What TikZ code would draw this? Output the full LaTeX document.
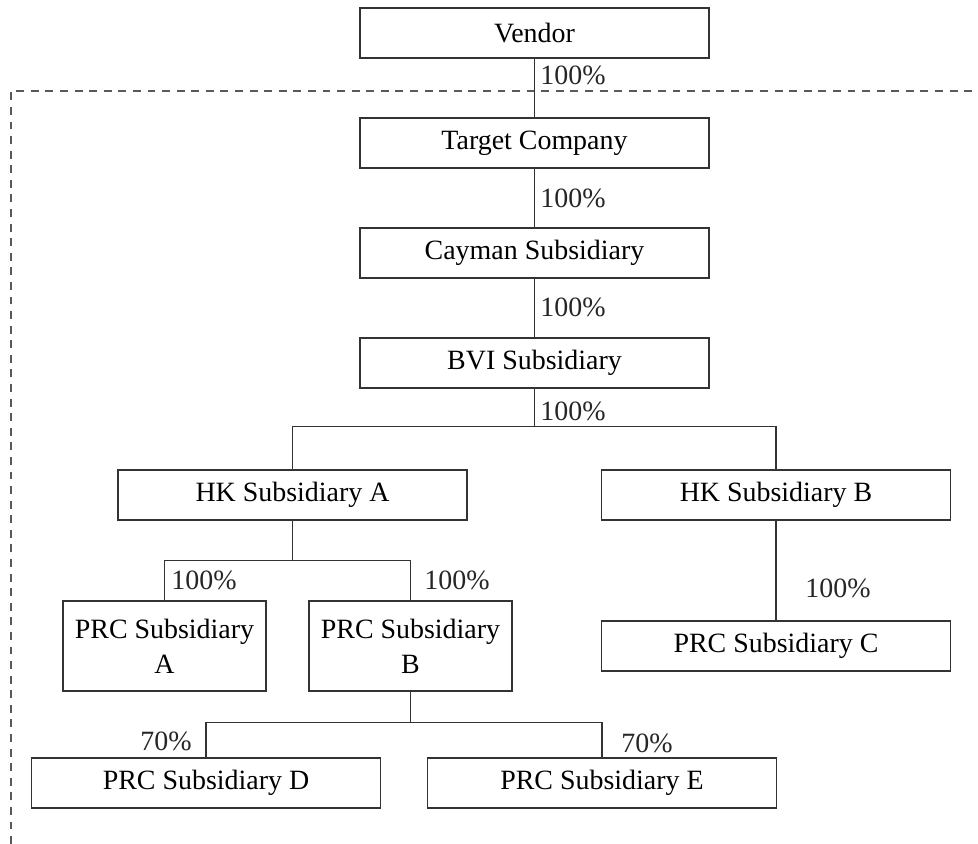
\documentclass[tikz,border=0pt]{standalone}
\usepackage{fontspec}
\setmainfont{Liberation Serif}
\usetikzlibrary{calc}
\tikzset{
  entity/.style={draw=black!80, line width=0.8pt, minimum width=6.98cm, minimum height=1cm, inner sep=0pt, font=\fontsize{15.9}{19.8}\selectfont},
  smallentity/.style={entity, minimum width=4.06cm, minimum height=1.8cm, align=center},
  share/.style={inner sep=0pt, font=\fontsize{15.9}{19.8}\selectfont, text=black!85},
  link/.style={black!80, line width=0.8pt},
  group/.style={black!65, line width=0.6pt, dash pattern=on 4.5pt off 3.8pt}
}

\begin{document}
\begin{tikzpicture}[x=0.02cm,y=-0.02cm]
    \useasboundingbox (0,0) rectangle (978,844);
    % dashed group boundary
    \coordinate (grpcorner) at (11,91);
    \draw[group] (11,844) -- (grpcorner) -- (978,91);
    % holding chain
    \node[entity] (vendor) at (534.5,33) {Vendor};
    \node[entity] (target) at (534.5,143) {Target Company};
    \node[entity] (cayman) at (534.5,253) {Cayman Subsidiary};
    \node[entity] (bvi) at (534.5,363) {BVI Subsidiary};
    \node[entity] (hka) at (292.5,495) {HK Subsidiary A};
    \node[entity] (hkb) at (776,495) {HK Subsidiary B};
    \node[smallentity] (prca) at (164.5,646) {PRC Subsidiary\\A};
    \node[smallentity] (prcb) at (410.5,646) {PRC Subsidiary\\B};
    \node[entity] (prcc) at (776,646) {PRC Subsidiary C};
    \node[entity] (prcd) at (206,783) {PRC Subsidiary D};
    \node[entity] (prce) at (602,783) {PRC Subsidiary E};
    % connectors
    \draw[link] (vendor) -- (target);
    \draw[link] (target) -- (cayman);
    \draw[link] (cayman) -- (bvi);
    \draw[link] (bvi.south) -- ++(0,38) coordinate (bvijoin);
    \draw[link] (hka.north) |- (bvijoin) -| (hkb.north);
    \draw[link] (hka.south) -- ++(0,40) coordinate (hkajoin);
    \draw[link] (prca.north) |- (hkajoin) -| (prcb.north);
    \draw[link] (hkb) -- (prcc);
    \draw[link] (prcb.south) -- ++(0,31) coordinate (prcbjoin);
    \draw[link] (prcd.north) |- (prcbjoin) -| (prce.north);
    % shareholdings
    \node[share, anchor=west] (pvendor) at (540,75) {100\%};
    \node[share, anchor=west] (ptarget) at (540,198) {100\%};
    \node[share, anchor=west] (pcayman) at (540,307) {100\%};
    \node[share, anchor=west] (pbvi) at (540,411) {100\%};
    \node[share, anchor=west] (pprca) at (171,580) {100\%};
    \node[share, anchor=west] (pprcb) at (424,580) {100\%};
    \node[share, anchor=west] (pprcc) at (805,588) {100\%};
 %   \node[share] at (407,600) {};
    \node[share, anchor=east] (pprcd) at (192,741) {70\%};
    \node[share, anchor=west] (pprce) at (621,743) {70\%};
\end{tikzpicture}
\end{document}
